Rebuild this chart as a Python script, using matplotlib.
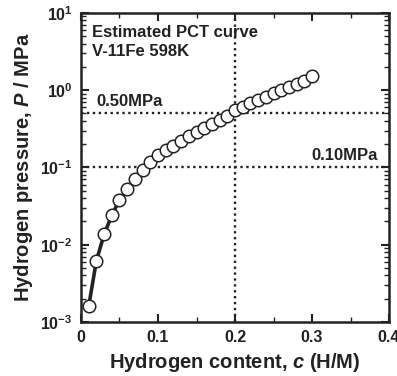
import matplotlib
matplotlib.use("Agg")
import matplotlib.pyplot as plt
from matplotlib.ticker import MultipleLocator, LogLocator, NullFormatter

plt.rcParams['font.family'] = ['Liberation Sans', 'DejaVu Sans']
plt.rcParams['font.weight'] = 'bold'
plt.rcParams['mathtext.fontset'] = 'custom'
plt.rcParams['mathtext.rm'] = 'Liberation Sans:bold'
plt.rcParams['mathtext.bf'] = 'Liberation Sans:bold'
plt.rcParams['mathtext.it'] = 'Liberation Sans:bold:italic'

# Data
content = [0.01, 0.02, 0.03, 0.04, 0.05, 0.06, 0.07, 0.08, 0.09, 0.10,
           0.11, 0.12, 0.13, 0.14, 0.15, 0.16, 0.17, 0.18, 0.19, 0.20,
           0.21, 0.22, 0.23, 0.24, 0.25, 0.26, 0.27, 0.28, 0.29, 0.30]
pressure = [0.0016, 0.0062, 0.0136, 0.0240, 0.0379, 0.0527, 0.0703, 0.0929, 0.117, 0.145,
            0.169, 0.191, 0.220, 0.254, 0.288, 0.327, 0.369, 0.412, 0.465, 0.55,
            0.612, 0.678, 0.748, 0.826, 0.912, 1.007, 1.11, 1.20, 1.33, 1.53]
ref_pressures = [0.5, 0.1]
ref_content = 0.2
xticks = [0, 0.1, 0.2, 0.3, 0.4]
xticklabels = ['0', '0.1', '0.2', '0.3', '0.4']
yticks = [1e-3, 1e-2, 1e-1, 1e0, 1e1]
yticklabels = [r'$\mathbf{10^{-3}}$', r'$\mathbf{10^{-2}}$', r'$\mathbf{10^{-1}}$',
               r'$\mathbf{10^{0}}$', r'$\mathbf{10^{1}}$']

fig = plt.figure(figsize=(3.97, 3.76), dpi=100)
ax = fig.add_axes([0.204, 0.1436, 0.776, 0.822])

for p in ref_pressures:
    ax.axhline(p, color='#222222', lw=1.7, ls=(0, (1, 1.5)), zorder=1)
ax.axvline(ref_content, color='#222222', lw=1.7, ls=(0, (1, 1.5)), zorder=1)

ax.plot(content, pressure, color='#222222', lw=2.6, marker='o', ms=9,
        mfc='white', mec='#222222', mew=1.1, zorder=3)

ax.set_yscale('log')
ax.set_xlim(0, 0.4)
ax.set_ylim(1e-3, 1e1)
ax.set_xticks(xticks)
ax.set_xticklabels(xticklabels)
ax.xaxis.set_minor_locator(MultipleLocator(0.05))
ax.set_yticks(yticks)
ax.set_yticklabels(yticklabels)
ax.yaxis.set_minor_locator(LogLocator(base=10, subs=range(2, 10)))
ax.yaxis.set_minor_formatter(NullFormatter())

ax.tick_params(which='both', direction='in', top=True, right=True, color='#222222',
               labelcolor='#222222')
ax.tick_params(which='major', length=6, width=1.5, labelsize=11.5, pad=6)
ax.tick_params(which='minor', length=3.5, width=1.0)
for s in ax.spines.values():
    s.set_linewidth(1.8)
    s.set_color('#222222')

ax.set_xlabel(r'Hydrogen content, $c$ (H/M)', fontsize=14.5, fontweight='bold',
              labelpad=4, color='#222222')
ax.set_ylabel(r'Hydrogen pressure, $P$ / MPa', fontsize=14.5, fontweight='bold',
              labelpad=4, color='#222222')

ax.text(0.035, 0.96, 'Estimated PCT curve\nV-11Fe 598K', transform=ax.transAxes,
        fontsize=12, fontweight='bold', va='top', ha='left', linespacing=1.3, color='#222222')
ax.text(0.02, 0.57, '0.50MPa', fontsize=12, fontweight='bold', va='bottom', ha='left',
        color='#222222')
ax.text(0.385, 0.114, '0.10MPa', fontsize=12, fontweight='bold', va='bottom', ha='right',
        color='#222222')

fig.savefig('out.png', dpi=100)
